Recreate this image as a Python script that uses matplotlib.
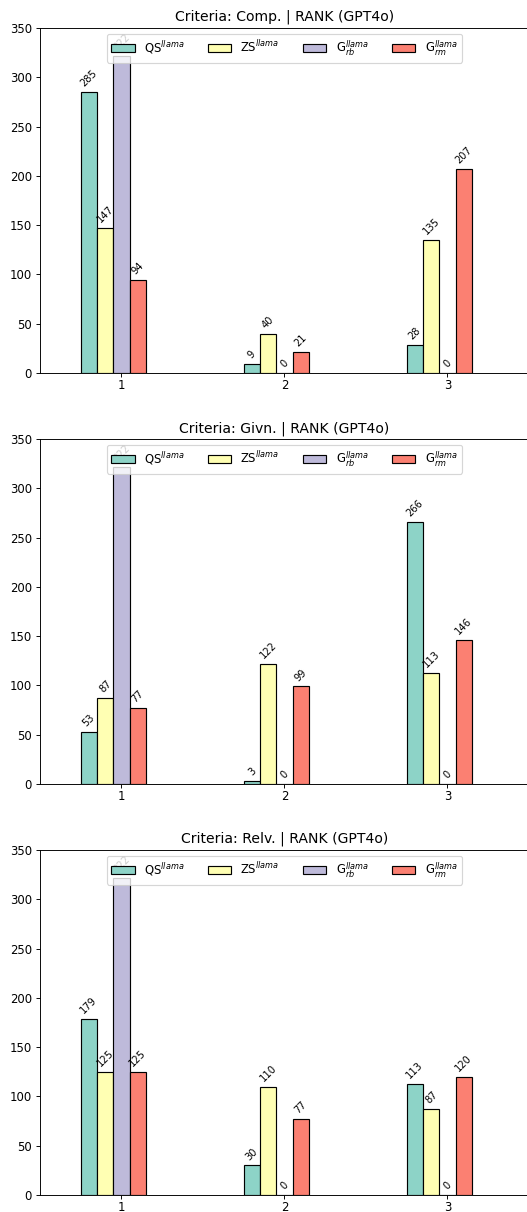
import matplotlib
matplotlib.use("Agg")
import matplotlib.pyplot as plt
import numpy as np

ranks = [1, 2, 3]
criteria = ["Comp.", "Givn.", "Relv."]
series_labels = [r"QS$^{llama}$", r"ZS$^{llama}$", r"G$_{rb}^{llama}$", r"G$_{rm}^{llama}$"]
colors = ["#8dd3c7", "#ffffb3", "#bebada", "#fb8072"]

comp_qs = [285, 9, 28]
comp_zs = [147, 40, 135]
comp_grb = [322, 0, 0]
comp_grm = [94, 21, 207]

givn_qs = [53, 3, 266]
givn_zs = [87, 122, 113]
givn_grb = [322, 0, 0]
givn_grm = [77, 99, 146]

relv_qs = [179, 30, 113]
relv_zs = [125, 110, 87]
relv_grb = [322, 0, 0]
relv_grm = [125, 77, 120]

panels = [
    (comp_qs, comp_zs, comp_grb, comp_grm),
    (givn_qs, givn_zs, givn_grb, givn_grm),
    (relv_qs, relv_zs, relv_grb, relv_grm),
]

W, H = 527, 1212
dpi = 84
fig = plt.figure(figsize=(W / dpi, H / dpi), dpi=dpi)

tops = [28, 439, 850]
ax_h = 345
left = 40
ax_w = 489

width = 0.1
offsets = [-0.2, -0.1, 0.0, 0.1]
x = np.array(ranks, dtype=float)

for crit, series, top in zip(criteria, panels, tops):
    ax = fig.add_axes([left / W, 1 - (top + ax_h) / H, ax_w / W, ax_h / H])
    for vals, lab, col, off in zip(series, series_labels, colors, offsets):
        bars = ax.bar(x + off, vals, width=width, color=col, edgecolor="black",
                      linewidth=1.0, label=lab)
        ax.bar_label(bars, labels=[str(v) for v in vals], rotation=45,
                     fontsize=8.5, padding=3)
    ax.set_xlim(0.5, 3.5)
    ax.set_ylim(0, 350)
    ax.set_xticks(ranks)
    ax.set_xticklabels([str(r) for r in ranks])
    ax.tick_params(axis="x", pad=1.5)
    ax.set_title(f"Criteria: {crit} | RANK (GPT4o)", fontsize=12)
    ax.legend(loc="upper center", ncol=4, fontsize=10)

fig.savefig("out.png", dpi=dpi)
